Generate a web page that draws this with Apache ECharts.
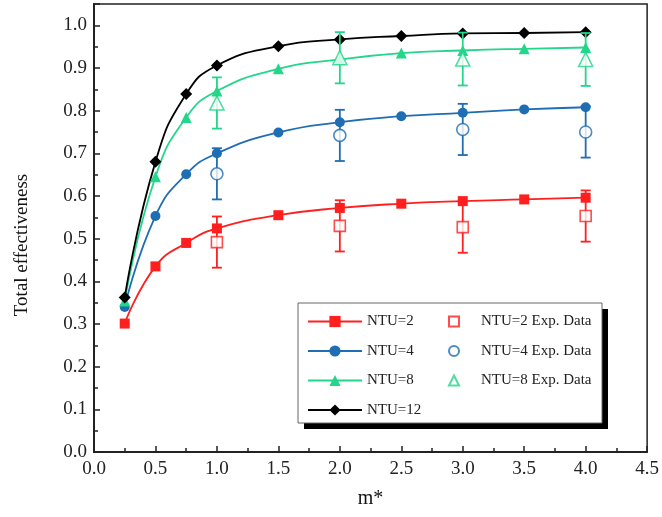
<!DOCTYPE html>
<html>
<head>
<meta charset="utf-8">
<script src="https://cdn.jsdelivr.net/npm/echarts@6/dist/echarts.min.js"></script>
<style>
  html, body { margin: 0; padding: 0; background: #fff; }
  #chart { width: 662px; height: 517px; }
</style>
</head>
<body>
<div id="chart"></div>
<script>
// model curves
const mVals = [0.25, 0.5, 0.75, 1.0, 1.5, 2.0, 2.5, 3.0, 3.5, 4.0];
const ntu2 = [0.301, 0.435, 0.490, 0.524, 0.555, 0.572, 0.582, 0.588, 0.592, 0.596];
const ntu4 = [0.340, 0.553, 0.651, 0.700, 0.749, 0.773, 0.787, 0.795, 0.803, 0.808];
const ntu8 = [0.354, 0.645, 0.784, 0.846, 0.898, 0.920, 0.935, 0.941, 0.945, 0.948];
const ntu12 = [0.362, 0.680, 0.839, 0.906, 0.951, 0.967, 0.975, 0.981, 0.982, 0.984];

// experimental points with error bars
const expM = [1.0, 2.0, 3.0, 4.0];
const exp2 = [0.492, 0.530, 0.527, 0.553];
const exp2Err = [0.060, 0.060, 0.060, 0.060];
const exp4 = [0.652, 0.742, 0.756, 0.750];
const exp4Err = [0.060, 0.060, 0.060, 0.060];
const exp8 = [0.818, 0.924, 0.921, 0.920];
const exp8Err = [0.060, 0.060, 0.062, 0.062];

const RED = '#ff1f1f', BLUE = '#1f6db3', GREEN = '#22d68a', BLACK = '#000000';
const FONT = "'Liberation Serif', 'DejaVu Serif', serif";

const pairs = (xs, ys) => xs.map((x, i) => [x, ys[i]]);
const bars = (ys, errs) => expM.map((x, i) => [x, ys[i] - errs[i], ys[i] + errs[i]]);

function lineSeries(name, ys, color, symbol, size) {
  return {
    name, type: 'line', data: pairs(mVals, ys), smooth: 0.5,
    symbol, symbolSize: size, color,
    lineStyle: { color, width: 1.8 },
    itemStyle: { color },
    z: 3
  };
}

function expSeries(name, ys, color, symbol, size) {
  return {
    name, type: 'scatter', data: pairs(expM, ys), symbol, symbolSize: size,
    itemStyle: { color: '#fff', borderColor: color, borderWidth: 1.6 },
    color, z: 5
  };
}

function errSeries(ys, errs, color) {
  return {
    type: 'custom', data: bars(ys, errs), z: 4, silent: true,
    renderItem: (params, api) => {
      const lo = api.coord([api.value(0), api.value(1)]);
      const hi = api.coord([api.value(0), api.value(2)]);
      const w = 5;
      const style = { stroke: color, lineWidth: 1.8 };
      return {
        type: 'group',
        children: [
          { type: 'line', shape: { x1: lo[0], y1: lo[1], x2: hi[0], y2: hi[1] }, style },
          { type: 'line', shape: { x1: lo[0] - w, y1: lo[1], x2: lo[0] + w, y2: lo[1] }, style },
          { type: 'line', shape: { x1: hi[0] - w, y1: hi[1], x2: hi[0] + w, y2: hi[1] }, style }
        ]
      };
    }
  };
}

const chart = echarts.init(document.getElementById('chart'));

const option = {
  animation: false,
  textStyle: { fontFamily: FONT },
  grid: {
    left: 94, right: 12, top: 4, bottom: 65,
    show: true, borderColor: '#222', borderWidth: 1.5
  },
  xAxis: {
    type: 'value', min: 0, max: 4.5, interval: 0.5,
    name: 'm*', nameLocation: 'middle', nameGap: 37,
    nameTextStyle: { fontFamily: FONT, fontSize: 20, color: '#111' },
    axisLine: { show: true, lineStyle: { color: '#222', width: 2 } },
    axisTick: { inside: true, length: 6, lineStyle: { color: '#222', width: 1.5 } },
    minorTick: { show: true, splitNumber: 2, length: 4, lineStyle: { color: '#222', width: 1.5 } },
    splitLine: { show: false },
    axisLabel: { margin: 8, fontFamily: FONT, fontSize: 19, color: '#222',
      formatter: v => v.toFixed(1) }
  },
  yAxis: {
    type: 'value', min: 0, max: 1.05, interval: 0.1,
    axisLine: { show: true, lineStyle: { color: '#222', width: 2 } },
    axisTick: { inside: true, length: 6, lineStyle: { color: '#222', width: 1.5 } },
    minorTick: { show: true, splitNumber: 2, length: 4, lineStyle: { color: '#222', width: 1.5 } },
    splitLine: { show: false },
    axisLabel: { margin: 7, fontFamily: FONT, fontSize: 19, color: '#222', showMaxLabel: false,
      formatter: v => (Math.abs(v * 10 - Math.round(v * 10)) < 1e-6 ? v.toFixed(1) : '') }
  },
  graphic: [
    { type: 'text', x: 22, y: 245, rotation: Math.PI / 2,
      style: { text: 'Total effectiveness', font: '19px ' + FONT, fill: '#111',
        textAlign: 'center', textVerticalAlign: 'middle' } },
    { type: 'rect', z: 50, shape: { x: 304, y: 309, width: 304, height: 120 }, style: { fill: '#000' } },
    { type: 'rect', z: 51, shape: { x: 298, y: 303, width: 304, height: 120 },
      style: { fill: '#fff', stroke: '#666', lineWidth: 1 } }
  ],
  legend: [
    {
      data: ['NTU=2', 'NTU=4', 'NTU=8', 'NTU=12'],
      orient: 'vertical', left: 307, top: 314, z: 60, padding: 0,
      itemWidth: 54, itemHeight: 14, itemGap: 14.5,
      textStyle: { fontFamily: FONT, fontSize: 15, color: '#222' }
    },
    {
      data: ['NTU=2 Exp. Data', 'NTU=4 Exp. Data', 'NTU=8 Exp. Data'],
      orient: 'vertical', left: 448, top: 314, z: 60, padding: 0,
      itemWidth: 10, itemHeight: 10, itemGap: 14.5,
      textStyle: { fontFamily: FONT, fontSize: 15, color: '#222', padding: [0, 0, 0, 17] }
    }
  ],
  series: [
    lineSeries('NTU=2', ntu2, RED, 'rect', 10),
    lineSeries('NTU=4', ntu4, BLUE, 'circle', 10),
    lineSeries('NTU=8', ntu8, GREEN, 'triangle', 11),
    lineSeries('NTU=12', ntu12, BLACK, 'diamond', 12),
    errSeries(exp2, exp2Err, RED),
    errSeries(exp4, exp4Err, BLUE),
    errSeries(exp8, exp8Err, GREEN),
    expSeries('NTU=2 Exp. Data', exp2, RED, 'rect', 11),
    expSeries('NTU=4 Exp. Data', exp4, BLUE, 'circle', 12),
    expSeries('NTU=8 Exp. Data', exp8, GREEN, 'triangle', 14)
  ]
};

chart.setOption(option);
window.addEventListener('resize', () => chart.resize());
</script>
</body>
</html>
